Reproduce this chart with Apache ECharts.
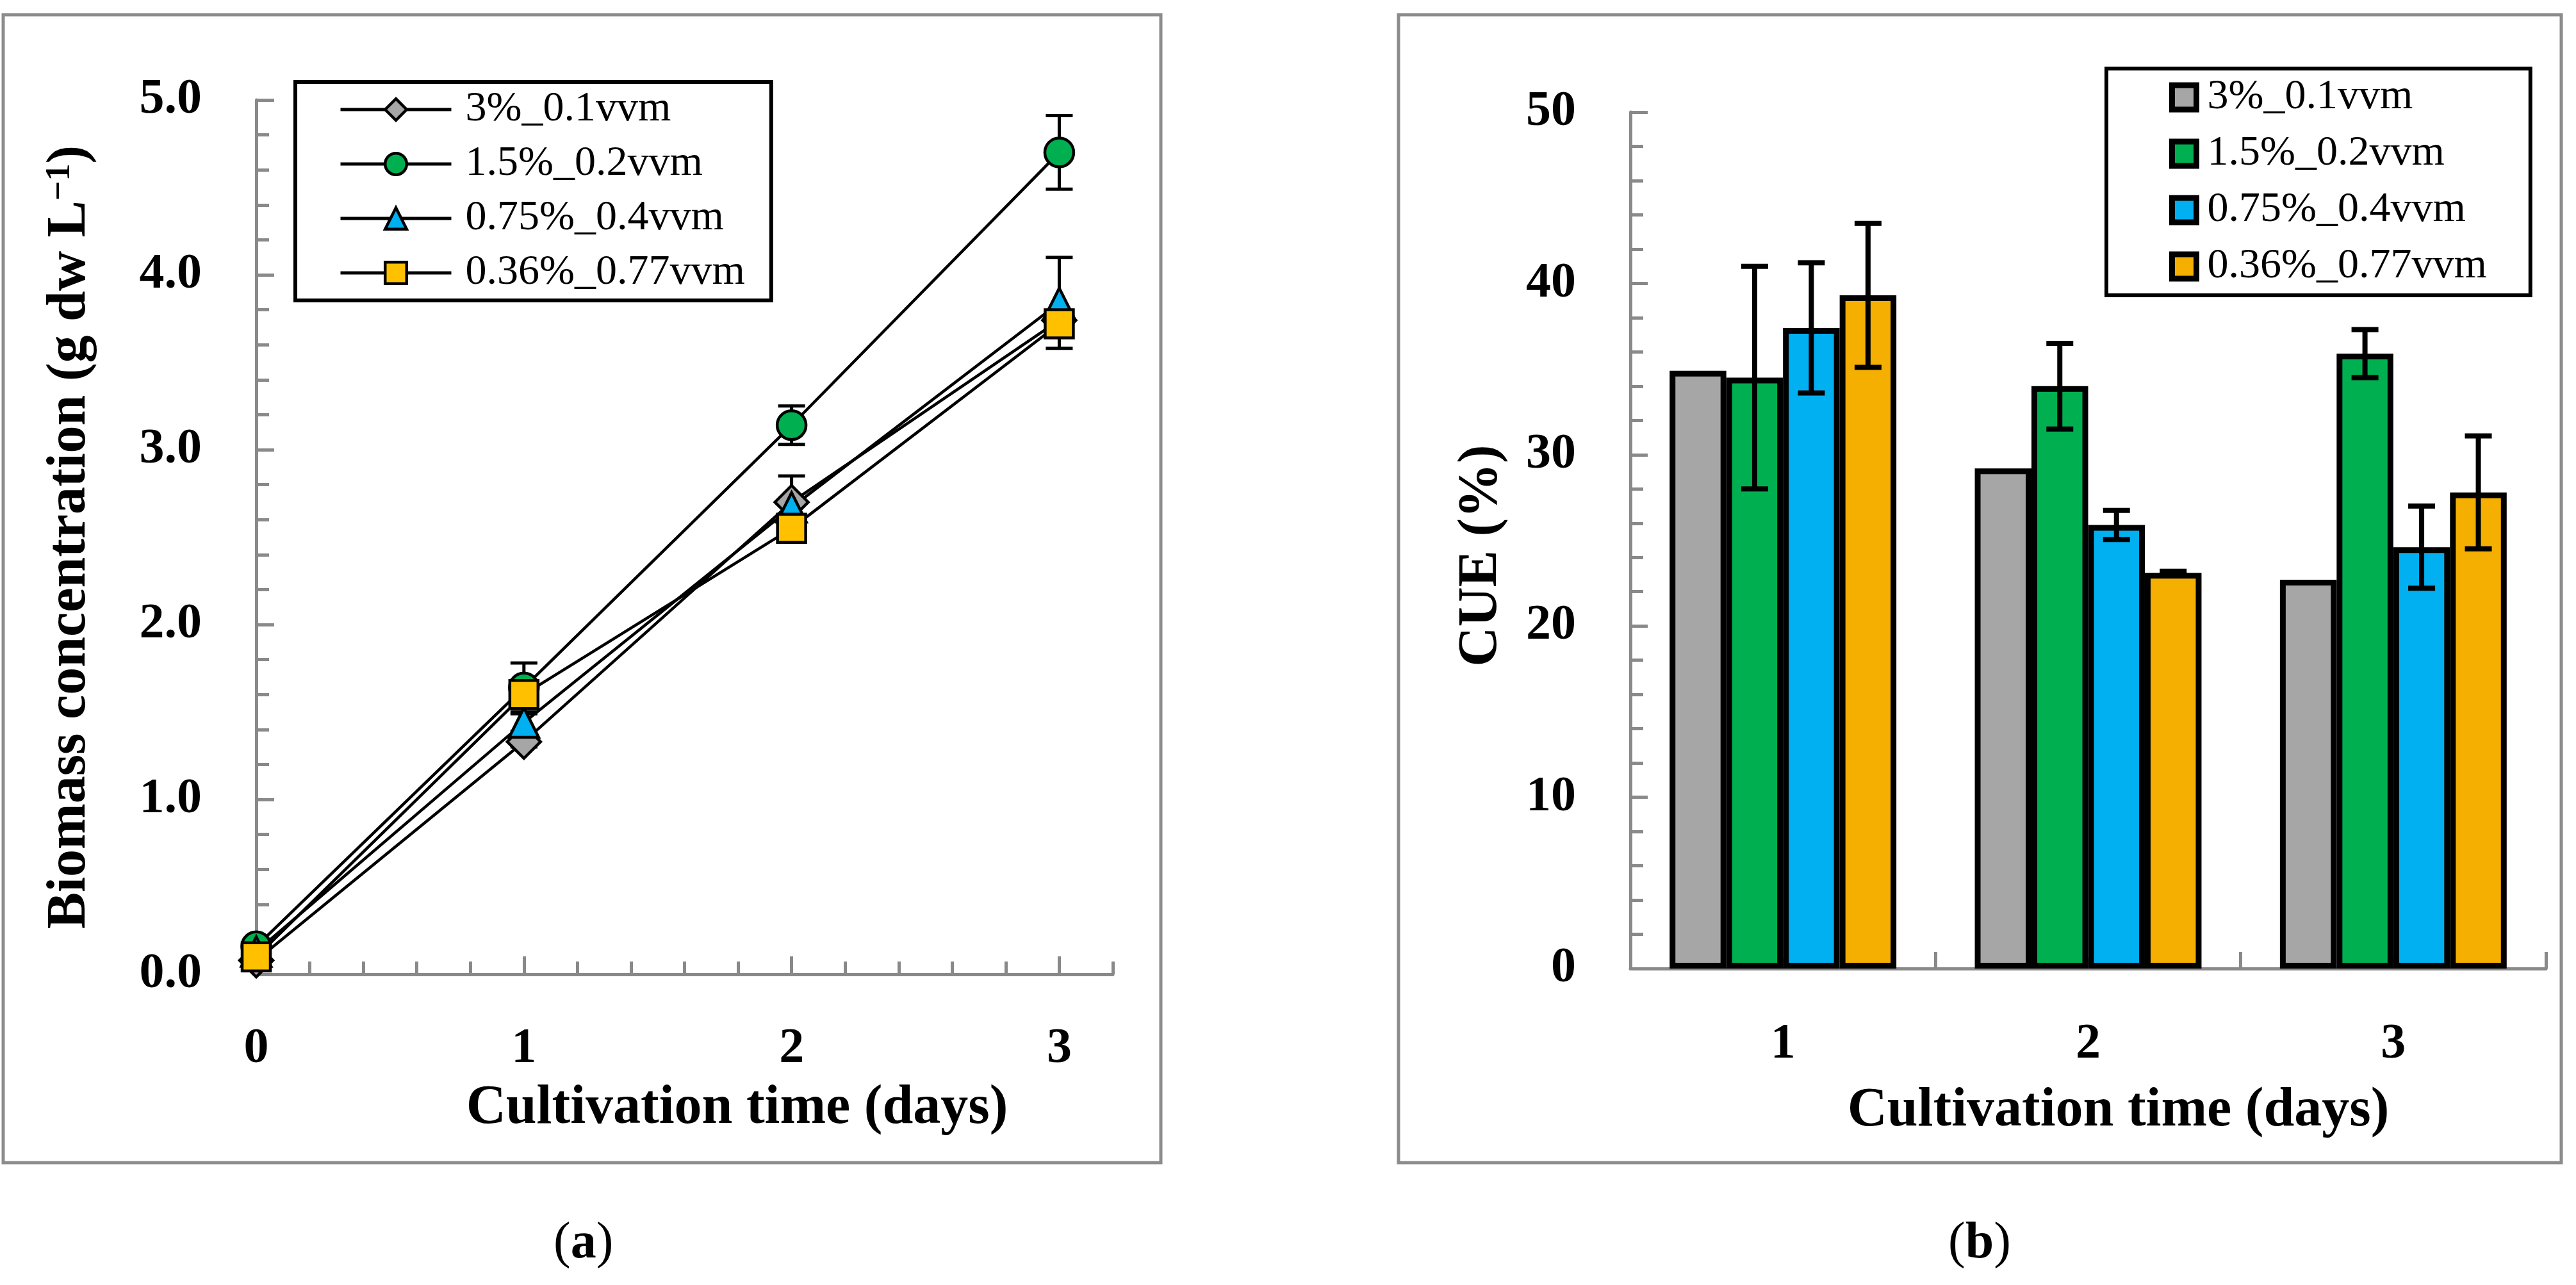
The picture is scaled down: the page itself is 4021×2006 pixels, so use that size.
<!DOCTYPE html>
<html>
<head>
<meta charset="utf-8">
<script src="https://cdn.jsdelivr.net/npm/echarts@6/dist/echarts.min.js"></script>
<style>
html,body{margin:0;padding:0;background:#ffffff;}
#chart{width:4021px;height:2006px;}
</style>
</head>
<body>
<div id="chart"></div>
<script>
// ---------- data ----------
const seriesNames = ['3%_0.1vvm', '1.5%_0.2vvm', '0.75%_0.4vvm', '0.36%_0.77vvm'];

// panel (a): biomass concentration (g dw L-1) vs cultivation day
const days = [0, 1, 2, 3];
const bioGray   = [0.08, 1.33, 2.70, 3.74];
const bioGreen  = [0.16, 1.64, 3.14, 4.70];
const bioBlue   = [0.13, 1.44, 2.67, 3.84];
const bioOrange = [0.10, 1.60, 2.55, 3.72];
const bioGrayErr   = [0.01, 0.03, 0.15, 0.05];
const bioGreenErr  = [0.02, 0.14, 0.11, 0.21];
const bioBlueErr   = [0.01, 0.05, 0.05, 0.26];
const bioOrangeErr = [0.01, 0.05, 0.05, 0.05];
const bioIntegerTicks = [0, 1, 2, 3];

// panel (b): CUE (%) per cultivation day
const cueDays = ['1', '2', '3'];
const cueGray   = [34.9, 29.2, 22.7];
const cueGreen  = [34.5, 34.0, 35.9];
const cueBlue   = [37.4, 25.9, 24.6];
const cueOrange = [39.3, 23.1, 27.8];
const cueGrayErr   = [0, 0, 0];
const cueGreenErr  = [6.5, 2.5, 1.4];
const cueBlueErr   = [3.8, 0.85, 2.4];
const cueOrangeErr = [4.2, 0.1, 3.3];
const cueHalfBands = ['', '', '', '', '', ''];

// ---------- styles ----------
const FONT = 'Liberation Serif';
const AXIS_GRAY = '#898989';
const lineFill = ['#A6A6A6', '#00B050', '#00B0F0', '#FFC000'];
const barFill  = ['#A6A6A6', '#00B050', '#00B0F0', '#F4AF00'];
const markerSymbols = ['diamond', 'circle', 'triangle', 'rect'];
const markerSizes = [52, 45, 46, 44];
const BAR_CAT_GAP = 0.257;

const bioValues = [bioGray, bioGreen, bioBlue, bioOrange];
const bioErrors = [bioGrayErr, bioGreenErr, bioBlueErr, bioOrangeErr];
const cueValues = [cueGray, cueGreen, cueBlue, cueOrange];
const cueErrors = [cueGrayErr, cueGreenErr, cueBlueErr, cueOrangeErr];

const tickLabelStyle = {fontFamily: FONT, fontSize: 78, fontWeight: 'bold', color: '#000'};
const axisNameStyle = {fontFamily: FONT, fontSize: 86, fontWeight: 'bold', color: '#000'};
const axisLineStyle = {color: AXIS_GRAY, width: 5};
const panelLabelRich = {
  p: {fontFamily: FONT, fontSize: 80, fontWeight: 'normal', color: '#000'},
  b: {fontFamily: FONT, fontSize: 80, fontWeight: 'bold', color: '#000'}
};

function isInt(v) { return Math.abs(v - Math.round(v)) < 1e-6; }

function lineErrRender(params, api) {
  const x = api.value(0), lo = api.value(1), hi = api.value(2);
  const pTop = api.coord([x, hi]);
  const pBot = api.coord([x, lo]);
  const cap = 21, st = {stroke: '#000', lineWidth: 5};
  return {type: 'group', children: [
    {type: 'line', shape: {x1: pTop[0], y1: pTop[1], x2: pBot[0], y2: pBot[1]}, style: st},
    {type: 'line', shape: {x1: pTop[0] - cap, y1: pTop[1], x2: pTop[0] + cap, y2: pTop[1]}, style: st},
    {type: 'line', shape: {x1: pBot[0] - cap, y1: pBot[1], x2: pBot[0] + cap, y2: pBot[1]}, style: st}
  ]};
}

function barErrRender(k) {
  return function (params, api) {
    const c = api.value(0), lo = api.value(1), hi = api.value(2);
    if (hi - lo <= 0) return null;
    const band = api.size([1, 0])[0];
    const barW = band * (1 - BAR_CAT_GAP) / 4;
    const off = (k - 1.5) * barW;
    const pTop = api.coord([c, hi]);
    const pBot = api.coord([c, lo]);
    const x = pTop[0] + off;
    const cap = 21, st = {stroke: '#000', lineWidth: 8};
    return {type: 'group', children: [
      {type: 'line', shape: {x1: x, y1: pTop[1], x2: x, y2: pBot[1]}, style: st},
      {type: 'line', shape: {x1: x - cap, y1: pTop[1], x2: x + cap, y2: pTop[1]}, style: st},
      {type: 'line', shape: {x1: x - cap, y1: pBot[1], x2: x + cap, y2: pBot[1]}, style: st}
    ]};
  };
}

const series = [];
// line series (a)
seriesNames.forEach(function (name, i) {
  series.push({
    type: 'line', name: name, xAxisIndex: 0, yAxisIndex: 0,
    data: days.map(function (d, j) { return [d, bioValues[i][j]]; }),
    symbol: markerSymbols[i], symbolSize: markerSizes[i],
    lineStyle: {color: '#000', width: 4.5},
    itemStyle: {color: lineFill[i], borderColor: '#000', borderWidth: 4.5},
    emphasis: {disabled: true}, z: 3, animation: false
  });
});
// error bars (a)
seriesNames.forEach(function (name, i) {
  series.push({
    type: 'custom', name: name, xAxisIndex: 0, yAxisIndex: 0,
    data: days.map(function (d, j) { return [d, bioValues[i][j] - bioErrors[i][j], bioValues[i][j] + bioErrors[i][j]]; }),
    encode: {x: 0, y: [1, 2]},
    renderItem: lineErrRender, silent: true, z: 2, animation: false
  });
});
// bars (b)
seriesNames.forEach(function (name, i) {
  series.push({
    type: 'bar', name: name, xAxisIndex: 2, yAxisIndex: 1,
    data: cueValues[i],
    barGap: '0%', barCategoryGap: (BAR_CAT_GAP * 100) + '%',
    itemStyle: {color: barFill[i], borderColor: '#000', borderWidth: 9},
    emphasis: {disabled: true}, z: 2, animation: false
  });
});
// error bars (b)
seriesNames.forEach(function (name, i) {
  series.push({
    type: 'custom', name: name, xAxisIndex: 2, yAxisIndex: 1,
    data: cueDays.map(function (d, j) { return [j, cueValues[i][j] - cueErrors[i][j], cueValues[i][j] + cueErrors[i][j]]; }),
    encode: {x: 0, y: [1, 2]},
    renderItem: barErrRender(i), silent: true, z: 4, animation: false
  });
});

const option = {
  backgroundColor: '#ffffff',
  animation: false,
  graphic: [
    {type: 'rect', shape: {x: 5, y: 23, width: 1807, height: 1792}, style: {fill: 'none', stroke: '#8c8c8c', lineWidth: 5}, silent: true, z: 0},
    {type: 'rect', shape: {x: 2183, y: 23, width: 1815, height: 1792}, style: {fill: 'none', stroke: '#8c8c8c', lineWidth: 5}, silent: true, z: 0}
  ],
  title: [
    {text: '{p|(}{b|a}{p|)}', left: 864, top: 1902, padding: 0,
     textStyle: {fontWeight: 'normal', rich: panelLabelRich}},
    {text: '{p|(}{b|b}{p|)}', left: 3041, top: 1902, padding: 0,
     textStyle: {fontWeight: 'normal', rich: panelLabelRich}}
  ],
  legend: [
    {
      data: seriesNames.slice(), orient: 'vertical', left: 461, top: 128,
      padding: [10, 41, 10, 68], itemGap: 19, itemWidth: 173, itemHeight: 42,
      backgroundColor: '#fff', borderColor: '#000', borderWidth: 6,
      textStyle: {fontFamily: FONT, fontSize: 66, color: '#000', padding: [0, 0, 0, 17]},
      itemStyle: {borderColor: '#000', borderWidth: 4.5},
      lineStyle: {color: '#000', width: 5},
      selectedMode: false, z: 10
    },
    {
      data: seriesNames.map(function (n, i) { return {name: n, itemStyle: {color: barFill[i]}}; }),
      orient: 'vertical', left: 3288, top: 107, icon: 'rect',
      padding: [12, 68, 12, 98], itemGap: 22, itemWidth: 38, itemHeight: 38,
      backgroundColor: '#fff', borderColor: '#000', borderWidth: 6,
      textStyle: {fontFamily: FONT, fontSize: 66, color: '#000', padding: [0, 0, 0, 12]},
      itemStyle: {borderColor: '#000', borderWidth: 9},
      selectedMode: false, z: 10
    }
  ],
  grid: [
    {left: 400, top: 156, width: 1337, height: 1365, show: false, containLabel: false, outerBoundsMode: 'none'},
    {left: 2545, top: 175, width: 1429, height: 1337, show: false, containLabel: false, outerBoundsMode: 'none'}
  ],
  xAxis: [
    {
      gridIndex: 0, type: 'value', min: 0, max: 3.2, interval: 0.2, position: 'bottom',
      axisLine: {show: true, onZero: false, lineStyle: axisLineStyle},
      axisTick: {show: true, inside: true, length: 20, lineStyle: axisLineStyle},
      axisLabel: {show: true, margin: 78, formatter: function (v) { return isInt(v) ? String(Math.round(v)) : ''; }, ...tickLabelStyle},
      splitLine: {show: false},
      name: 'Cultivation time (days)', nameLocation: 'middle', nameGap: 167, nameMoveOverlap: false,
      nameTextStyle: Object.assign({}, axisNameStyle, {padding: [0, 0, 0, 164]})
    },
    {
      gridIndex: 0, type: 'value', min: 0, max: 3.2, interval: 0.2, position: 'bottom',
      axisLine: {show: false, onZero: false},
      axisTick: {show: true, inside: true, length: 28, customValues: bioIntegerTicks, lineStyle: axisLineStyle},
      axisLabel: {show: false}, splitLine: {show: false}
    },
    {
      gridIndex: 1, type: 'category', data: cueDays, position: 'bottom',
      axisLine: {show: true, onZero: false, lineStyle: axisLineStyle},
      axisTick: {show: true, inside: true, length: 26, interval: 0, alignWithLabel: false, lineStyle: axisLineStyle},
      axisLabel: {show: true, margin: 80, interval: 0, ...tickLabelStyle},
      splitLine: {show: false},
      name: 'Cultivation time (days)', nameLocation: 'middle', nameGap: 180, nameMoveOverlap: false,
      nameTextStyle: Object.assign({}, axisNameStyle, {padding: [0, 0, 0, 94]})
    },
    {
      gridIndex: 1, type: 'category', data: cueHalfBands, position: 'bottom',
      axisLine: {show: false, onZero: false},
      axisTick: {show: true, inside: true, length: 17, interval: 0, lineStyle: axisLineStyle},
      axisLabel: {show: false}, splitLine: {show: false}
    }
  ],
  yAxis: [
    {
      gridIndex: 0, type: 'value', min: 0, max: 5, interval: 1,
      axisLine: {show: true, onZero: false, lineStyle: axisLineStyle},
      axisTick: {show: true, inside: true, length: 28, lineStyle: axisLineStyle},
      minorTick: {show: true, splitNumber: 5, length: 20, lineStyle: axisLineStyle},
      axisLabel: {show: true, margin: 85, formatter: function (v) { return v.toFixed(1); }, ...tickLabelStyle},
      splitLine: {show: false}, minorSplitLine: {show: false},
      name: 'Biomass concentration (g dw L{sup|\u22121})', nameLocation: 'middle', nameGap: 247, nameRotate: 90, nameMoveOverlap: false,
      nameTextStyle: Object.assign({}, axisNameStyle, {rich: {sup: {fontFamily: FONT, fontSize: 54, fontWeight: 'bold', color: '#000', verticalAlign: 'top'}}})
    },
    {
      gridIndex: 1, type: 'value', min: 0, max: 50, interval: 10,
      axisLine: {show: true, onZero: false, lineStyle: axisLineStyle},
      axisTick: {show: true, inside: true, length: 27, lineStyle: axisLineStyle},
      minorTick: {show: true, splitNumber: 5, length: 20, lineStyle: axisLineStyle},
      axisLabel: {show: true, margin: 85, ...tickLabelStyle},
      splitLine: {show: false}, minorSplitLine: {show: false},
      name: 'CUE (%)', nameLocation: 'middle', nameGap: 189, nameRotate: 90, nameMoveOverlap: false,
      nameTextStyle: Object.assign({}, axisNameStyle, {padding: [0, 48, 0, 0]})
    }
  ],
  series: series
};

const chart = echarts.init(document.getElementById('chart'), null, {renderer: 'canvas'});
chart.setOption(option);
</script>
</body>
</html>
